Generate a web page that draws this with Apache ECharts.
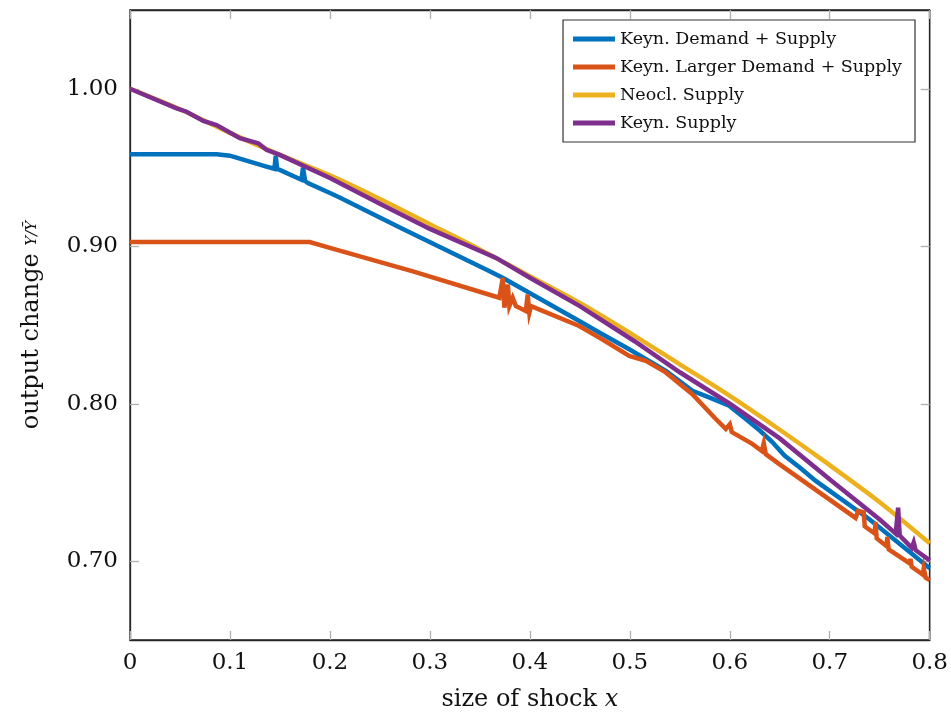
<!DOCTYPE html>
<html>
<head>
<meta charset="utf-8">
<script src="https://cdn.jsdelivr.net/npm/echarts@6/dist/echarts.min.js"></script>
<style>
html,body{margin:0;padding:0;background:#fff;}
#c{width:951px;height:717px;}
</style>
</head>
<body>
<div id="c"></div>
<script>
// ---- data (x = size of shock, y = output change) ----
const seriesNames = ['Keyn. Demand + Supply', 'Keyn. Larger Demand + Supply', 'Neocl. Supply', 'Keyn. Supply'];

const keynDemandSupply = [
  [0,0.9584],[0.0866,0.9584],[0.1,0.9575],[0.1065,0.9563],[0.1365,0.9506],[0.1445,0.9492],
  [0.1458,0.9575],[0.1472,0.9490],[0.1498,0.9485],[0.1715,0.9422],[0.1731,0.9500],[0.1752,0.9414],
  [0.178,0.9401],[0.2,0.9338],[0.2097,0.931],[0.273,0.911],[0.3562,0.8853],[0.3728,0.880],
  [0.4494,0.8525],[0.4694,0.8452],[0.4994,0.8346],[0.536,0.8209],[0.5626,0.8082],[0.5793,0.804],
  [0.5993,0.7987],[0.616,0.7903],[0.63,0.783],[0.642,0.776],[0.655,0.767],[0.67,0.7595],
  [0.686,0.751],[0.739,0.727],[0.8,0.6956]
];

const keynLargerDemandSupply = [
  [0,0.9027],[0.1798,0.9027],[0.2,0.899],[0.283,0.884],[0.3695,0.8673],[0.3715,0.8669],
  [0.373,0.880],[0.3745,0.861],[0.378,0.8757],[0.3795,0.862],[0.3828,0.8673],[0.386,0.862],
  [0.3895,0.861],[0.396,0.8589],[0.3978,0.8694],[0.3995,0.8578],[0.4012,0.862],[0.4494,0.8494],
  [0.4694,0.842],[0.476,0.8395],[0.4994,0.8304],[0.516,0.8272],[0.536,0.8199],[0.5626,0.8061],
  [0.586,0.7903],[0.596,0.784],[0.598,0.7835],[0.600,0.787],[0.602,0.782],[0.6225,0.7745],
  [0.632,0.770],[0.634,0.775],[0.636,0.768],[0.6492,0.7618],[0.7258,0.7275],[0.7275,0.7268],
  [0.7285,0.732],[0.734,0.731],[0.735,0.7222],[0.745,0.7176],[0.7457,0.725],[0.747,0.7145],
  [0.757,0.7095],[0.7575,0.7155],[0.759,0.7075],[0.78,0.6986],[0.7807,0.7015],[0.782,0.6965],
  [0.793,0.6915],[0.794,0.6955],[0.796,0.6895],[0.8,0.688]
];

const neoclSupply = [
  [0,1.0],[0.05,0.987],[0.1,0.972],[0.15,0.958],[0.2,0.945],[0.25,0.93],[0.3,0.914],[0.35,0.898],
  [0.4,0.881],[0.45,0.864],[0.5,0.845],[0.55,0.825],[0.6,0.805],[0.65,0.7835],
  [0.7,0.761],[0.75,0.7375],[0.8,0.7114]
];

const keynSupply = [
  [0,1.0],[0.0466,0.9876],[0.0566,0.9854],[0.0733,0.9796],[0.0866,0.977],[0.1099,0.9686],
  [0.1282,0.9654],[0.1365,0.9612],[0.1498,0.958],[0.2,0.9433],[0.25,0.927],[0.3,0.911],
  [0.3662,0.8926],[0.4,0.880],[0.45,0.862],[0.504,0.840],[0.55,0.820],[0.6,0.800],
  [0.65,0.778],[0.702,0.751],[0.75,0.7265],[0.766,0.7175],[0.7684,0.734],
  [0.770,0.7163],[0.782,0.7085],[0.784,0.712],[0.786,0.707],[0.8,0.7006]
];

const colors = ['#0072BD', '#D95319', '#EDB120', '#7E2F8E'];
const yTicks = [0.7, 0.8, 0.9, 1.0];
const xTicks = [0, 0.1, 0.2, 0.3, 0.4, 0.5, 0.6, 0.7, 0.8];

const FONT = 'DejaVu Serif';
const chart = echarts.init(document.getElementById('c'), null, {renderer: 'canvas'});

const frameLine = {show: true, onZero: false, lineStyle: {color: '#262626', width: 1.3}};
const tickStyle = {show: true, inside: true, length: 9, lineStyle: {color: '#b0b0b0', width: 1.3}};

const allData = [keynDemandSupply, keynLargerDemandSupply, neoclSupply, keynSupply];

chart.setOption({
  animation: false,
  backgroundColor: '#fff',
  color: colors,
  grid: {left: 130, right: 20, top: 10, bottom: 77, containLabel: false,
         show: true, borderColor: '#262626', borderWidth: 1.3, backgroundColor: 'transparent'},
  legend: {
    orient: 'vertical',
    right: 36, top: 20,
    data: seriesNames,
    icon: 'rect',
    itemWidth: 42, itemHeight: 5,
    itemGap: 8,
    padding: [9, 13, 9, 10],
    borderColor: '#333', borderWidth: 1.2, backgroundColor: '#fff',
    textStyle: {fontFamily: FONT, fontSize: 17.5, color: '#111', lineHeight: 20}
  },
  xAxis: [{
    type: 'value', min: 0, max: 0.8, interval: 0.1,
    position: 'bottom',
    axisLine: frameLine,
    axisTick: Object.assign({customValues: xTicks}, tickStyle),
    splitLine: {show: false},
    axisLabel: {
      customValues: xTicks,
      margin: 12, fontFamily: FONT, fontSize: 23, color: '#111',
      formatter: v => (v === 0 ? '0' : v.toFixed(1))
    },
    name: '{a|size of shock }{i|x}',
    nameLocation: 'middle', nameGap: 48,
    nameTextStyle: {
      rich: {
        a: {fontFamily: FONT, fontSize: 24, color: '#111'},
        i: {fontFamily: FONT, fontSize: 24, fontStyle: 'italic', color: '#111'}
      }
    }
  }, {
    type: 'value', min: 0, max: 0.8, interval: 0.1,
    position: 'top',
    axisLine: frameLine,
    axisTick: Object.assign({customValues: xTicks}, tickStyle),
    axisLabel: {show: false},
    splitLine: {show: false}
  }],
  yAxis: [{
    type: 'value', min: 0.65, max: 1.05,
    position: 'left',
    axisLine: frameLine,
    axisTick: Object.assign({customValues: yTicks}, tickStyle),
    splitLine: {show: false},
    axisLabel: {
      customValues: yTicks,
      margin: 12, fontFamily: FONT, fontSize: 23, color: '#111',
      formatter: v => v.toFixed(2)
    },
    name: '{a|output change }{f|Y/Y\u0304}',
    nameLocation: 'middle', nameGap: 86, nameRotate: 90,
    nameTextStyle: {
      rich: {
        a: {fontFamily: FONT, fontSize: 24, color: '#111'},
        f: {fontFamily: FONT, fontSize: 15, fontStyle: 'italic', color: '#111'}
      }
    }
  }, {
    type: 'value', min: 0.65, max: 1.05,
    position: 'right',
    axisLine: frameLine,
    axisTick: Object.assign({customValues: yTicks}, tickStyle),
    axisLabel: {show: false},
    splitLine: {show: false}
  }],
  series: seriesNames.map((n, i) => ({
    name: n,
    type: 'line',
    data: allData[i],
    showSymbol: false,
    symbol: 'none',
    smooth: i === 2 ? 0.3 : false,
    lineStyle: {width: 4.5, color: colors[i], join: 'miter', miterLimit: 6},
    itemStyle: {color: colors[i]},
    z: 2 + i
  }))
});
</script>
</body>
</html>
